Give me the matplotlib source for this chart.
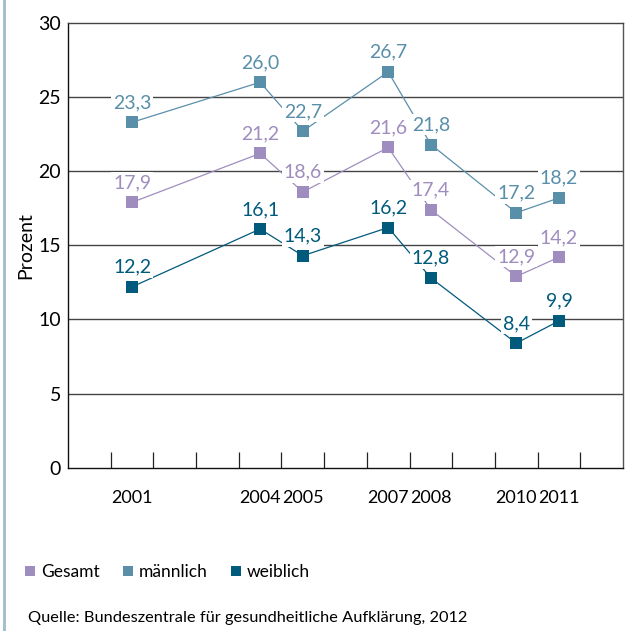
import matplotlib.pyplot as plt
from matplotlib.lines import Line2D

jahre = [2001, 2004, 2005, 2007, 2008, 2010, 2011]
gesamt = [17.9, 21.2, 18.6, 21.6, 17.4, 12.9, 14.2]
maennlich = [23.3, 26.0, 22.7, 26.7, 21.8, 17.2, 18.2]
weiblich = [12.2, 16.1, 14.3, 16.2, 12.8, 8.4, 9.9]

serien = [
    ("Gesamt", gesamt, "#a08dbf"),
    ("männlich", maennlich, "#5a8faa"),
    ("weiblich", weiblich, "#005a7c"),
]

plt.rcParams['font.family'] = ['Lato', 'DejaVu Sans']

fig = plt.figure(figsize=(6.25, 6.31), dpi=100)
ax = fig.add_axes([0.1088, 0.2588, 0.8880, 0.7048])

for name, werte, farbe in serien:
    ax.plot(jahre, werte, color=farbe, lw=0.9, marker='s', ms=8.6,
            markeredgewidth=0, label=name, zorder=3)
    for j, w in zip(jahre, werte):
        ax.annotate(f"{w:.1f}".replace('.', ','), (j, w), xytext=(0, 8),
                    textcoords='offset points', ha='center', va='bottom',
                    fontsize=14, color=farbe, zorder=4,
                    bbox=dict(boxstyle='square,pad=0.1', fc='white', ec='none'))

ax.set_xlim(1999.5, 2012.5)
ax.set_ylim(0, 30)
ax.set_yticks(range(0, 31, 5))
ax.set_xticks(jahre)
ax.set_xticks([j + 0.5 for j in range(2000, 2012)], minor=True)
ax.tick_params(axis='x', which='major', length=0, pad=16, labelsize=13)
ax.tick_params(axis='x', which='minor', direction='in', length=11.5,
               width=0.9, color='#222222')
ax.tick_params(axis='y', length=0, pad=5, labelsize=14)

for y in range(5, 30, 5):
    ax.axhline(y, color='#444444', lw=1.0, zorder=1)

ax.spines['left'].set_color('#111111')
ax.spines['bottom'].set_color('#111111')
ax.spines['top'].set_color('#444444')
ax.spines['right'].set_color('#555555')
for s in ax.spines.values():
    s.set_linewidth(1.0)

ax.set_ylabel("Prozent", fontsize=14, labelpad=3)

handles = [Line2D([], [], ls='none', marker='s', ms=7, color=f, markeredgewidth=0)
           for _, _, f in serien]
fig.legend(handles, [n for n, _, _ in serien], loc='center left',
           bbox_to_anchor=(0.04, 0.094), ncol=3, frameon=False, fontsize=12.5,
           handlelength=0.6, handletextpad=0.35, columnspacing=1.3,
           borderpad=0, borderaxespad=0)

fig.text(0.045, 0.021, "Quelle: Bundeszentrale für gesundheitliche Aufklärung, 2012",
         fontsize=11.8, va='center', ha='left')

fig.add_artist(Line2D([0.006, 0.006], [0, 1], color='#9dbccd', lw=2.0,
                      transform=fig.transFigure))

fig.savefig("out.png", dpi=100)
